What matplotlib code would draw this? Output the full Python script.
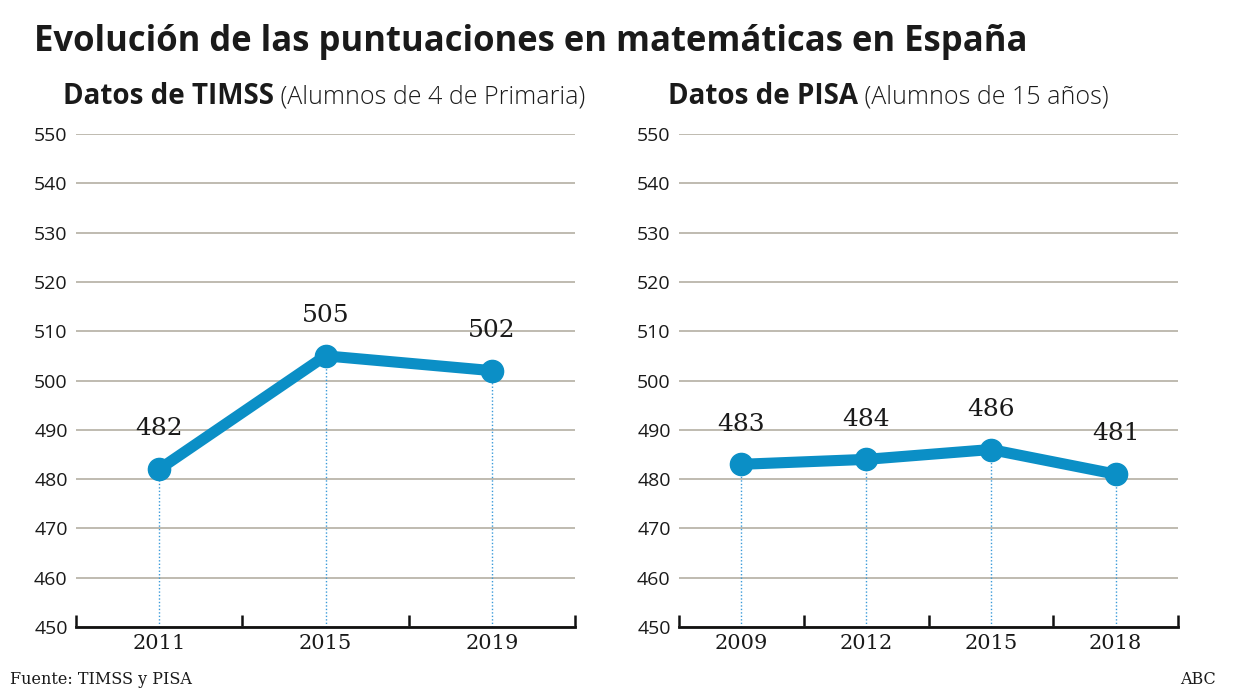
import matplotlib
matplotlib.use("Agg")
import matplotlib.pyplot as plt

# ── Data ──────────────────────────────────────────────────────────────────────
timss_years = ["2011", "2015", "2019"]
timss_scores = [482, 505, 502]

pisa_years = ["2009", "2012", "2015", "2018"]
pisa_scores = [483, 484, 486, 481]

y_ticks = list(range(450, 551, 10))

# ── Style ─────────────────────────────────────────────────────────────────────
W, H = 1240, 698
LINE_C = "#0b8fc6"
DOT_C = "#3a9ad9"
GRID_C = "#b4afa3"
SANS = "Open Sans"
SERIF = "DejaVu Serif"


def px_axes(fig, x0, x1, y_top, y_bot):
    return fig.add_axes([x0 / W, (H - y_bot) / H, (x1 - x0) / W, (y_bot - y_top) / H])


def draw_panel(ax, cats, vals):
    n = len(cats)
    xs = list(range(n))
    ax.set_xlim(-0.5, n - 0.5)
    ax.set_ylim(450, 550)
    ax.set_yticks(y_ticks)
    ax.set_yticklabels([str(t) for t in y_ticks], fontsize=14, family=SANS,
                       color="#1a1a1a")
    ax.grid(axis="y", color=GRID_C, lw=1.2, zorder=0)
    ax.set_axisbelow(True)
    for s in ("top", "right", "left"):
        ax.spines[s].set_visible(False)
    ax.spines["bottom"].set_linewidth(2)
    ax.spines["bottom"].set_color("#111111")
    ax.spines["bottom"].set_zorder(5)

    # category boundaries as inward ticks, labels at centres
    ax.set_xticks([i - 0.5 for i in range(n + 1)])
    ax.set_xticklabels([])
    ax.tick_params(axis="x", which="major", direction="in", length=9, width=1.8,
                   color="#111111")
    ax.set_xticks(xs, minor=True)
    ax.set_xticklabels(cats, minor=True, fontsize=15, family=SERIF, color="#1a1a1a")
    ax.tick_params(axis="x", which="minor", length=0, pad=5)
    ax.tick_params(axis="y", length=0, pad=6)

    ax.vlines(xs, 450, vals, colors=DOT_C, linestyles=(0, (1, 1.5)), lw=1, zorder=2)
    ax.plot(xs, vals, color=LINE_C, lw=8, marker="o", ms=16,
            solid_capstyle="round", zorder=4, clip_on=False)
    for x, v in zip(xs, vals):
        ax.annotate(str(v), (x, v), xytext=(0, 29), textcoords="offset points",
                    ha="center", va="center", fontsize=18, family=SERIF,
                    color="#1a1a1a")


fig = plt.figure(figsize=(W / 100, H / 100), dpi=100, facecolor="white")

ax1 = px_axes(fig, 76, 575, 134, 627)
draw_panel(ax1, timss_years, timss_scores)

ax2 = px_axes(fig, 679, 1178, 134, 627)
draw_panel(ax2, pisa_years, pisa_scores)

# ── Texts ─────────────────────────────────────────────────────────────────────
fig.text(34 / W, 1 - 42 / H, "Evolución de las puntuaciones en matemáticas en España",
         fontsize=24.9, fontweight="bold", family=SANS, color="#1a1a1a",
         va="center", ha="left")

t1 = fig.text(63 / W, 1 - 97 / H, "Datos de TIMSS", fontsize=20, fontweight="bold",
              family=SANS, color="#1a1a1a", va="center", ha="left")
t2 = fig.text(668 / W, 1 - 97 / H, "Datos de PISA", fontsize=20, fontweight="bold",
              family=SANS, color="#1a1a1a", va="center", ha="left")

fig.canvas.draw()
r = fig.canvas.get_renderer()
for t, sub in ((t1, " (Alumnos de 4 de Primaria)"), (t2, " (Alumnos de 15 años)")):
    bb = t.get_window_extent(r)
    fig.text(bb.x1 / W, 1 - 97 / H, sub, fontsize=18, fontweight="light",
             family=SANS, color="#1a1a1a", va="center", ha="left")

fig.text(10 / W, 1 - 680 / H, "Fuente: TIMSS y PISA", fontsize=11.5, family=SERIF,
         color="#1a1a1a", va="center", ha="left")
fig.text(1216 / W, 1 - 680 / H, "ABC", fontsize=11.5, family=SERIF,
         color="#1a1a1a", va="center", ha="right")

fig.savefig("out.png", dpi=100, facecolor="white")
